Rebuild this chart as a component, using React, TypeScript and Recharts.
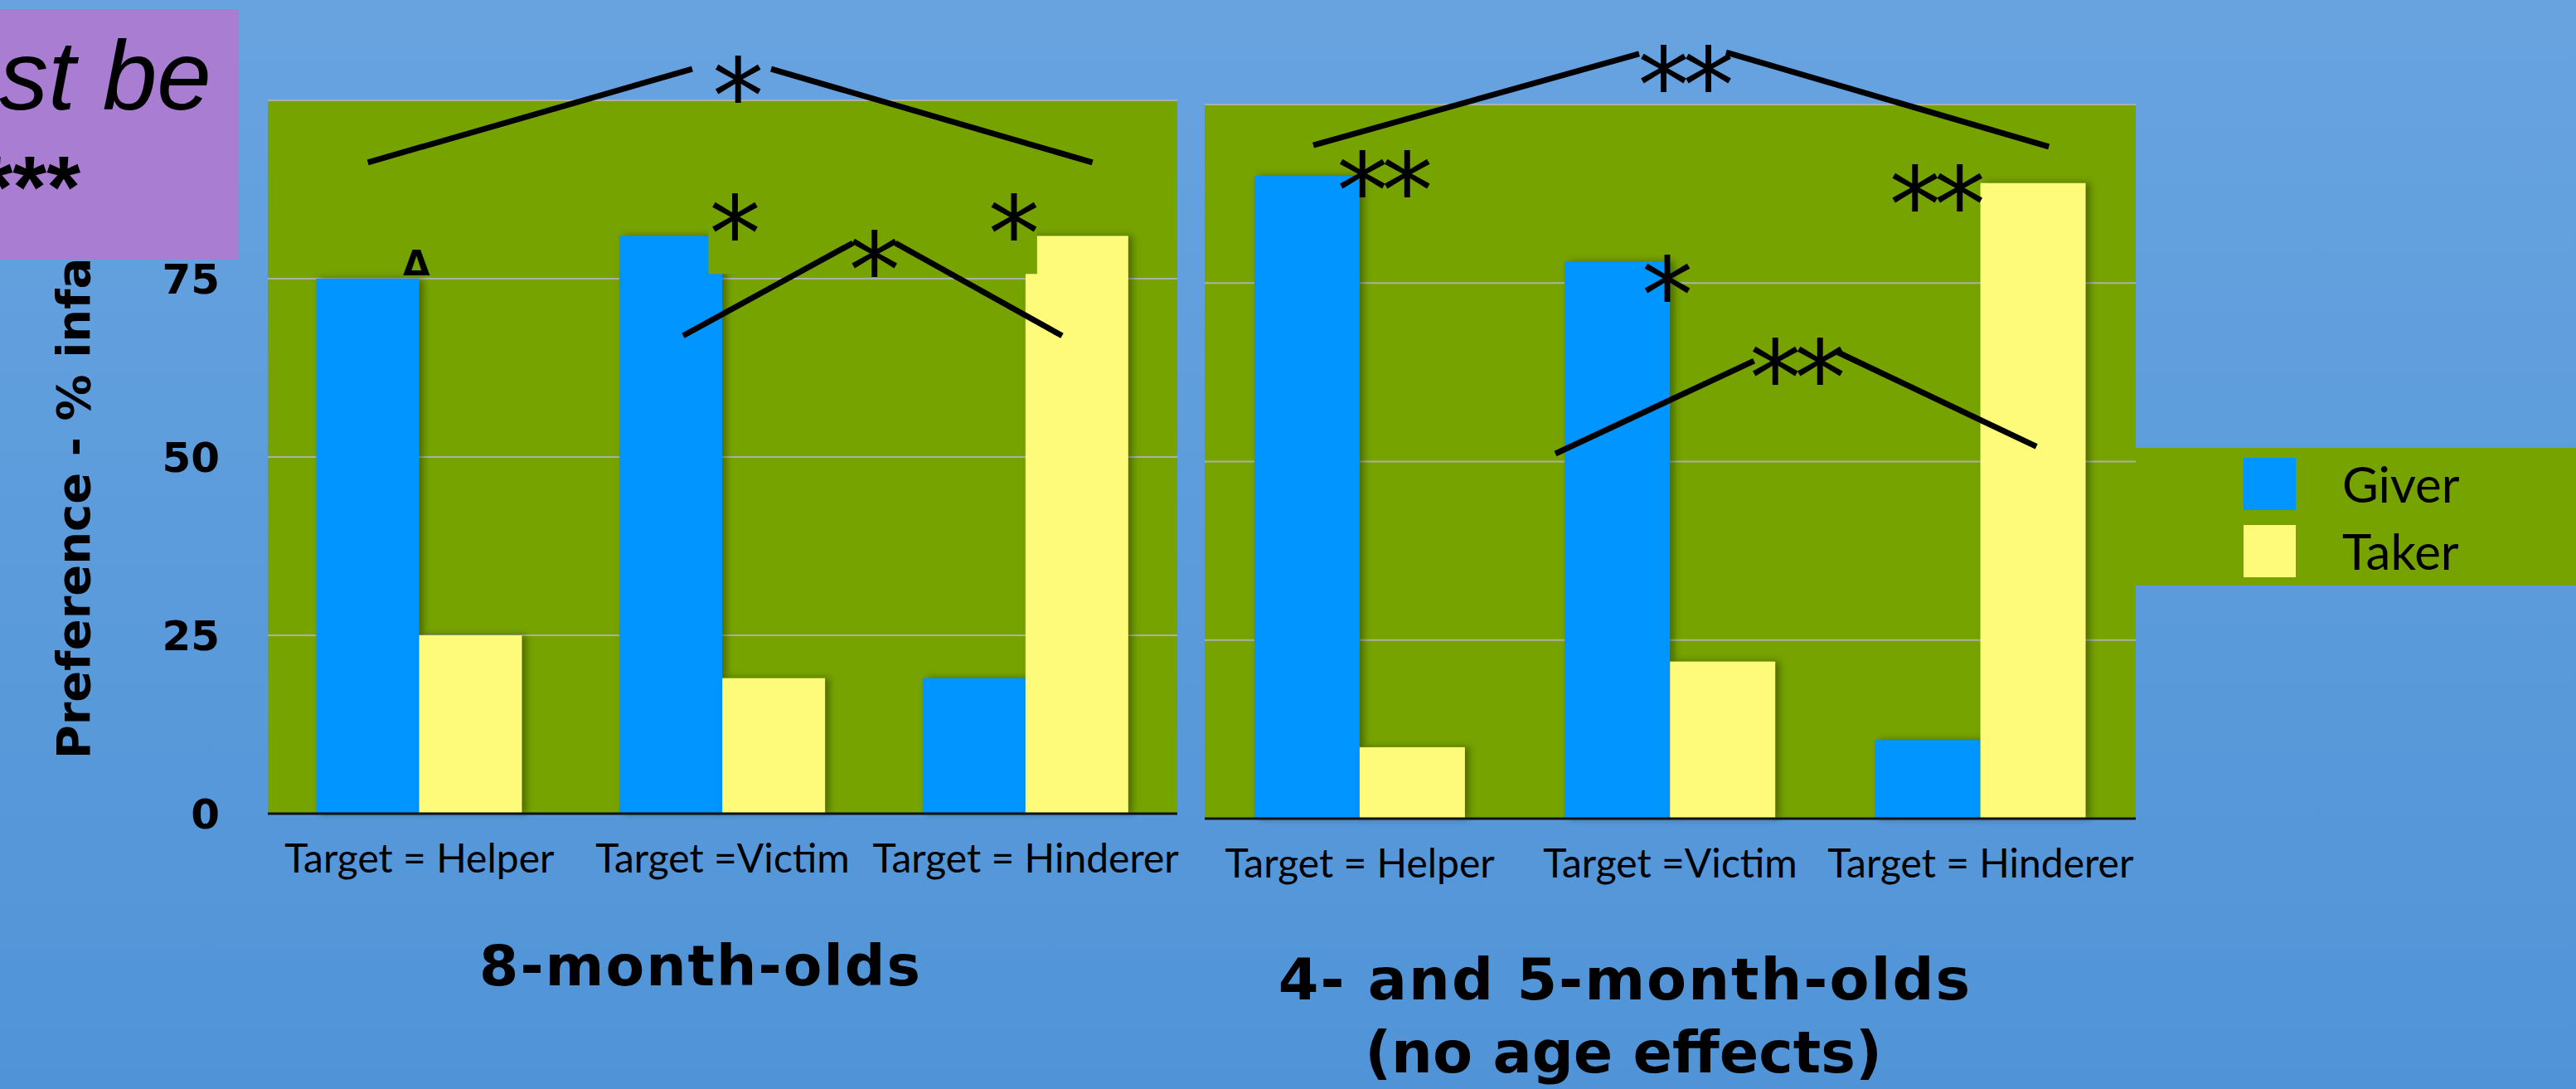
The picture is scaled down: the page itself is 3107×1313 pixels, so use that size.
import React from "react";
import {
  BarChart,
  Bar,
  XAxis,
  YAxis,
  CartesianGrid,
  ReferenceLine,
  ReferenceDot,
  Legend,
} from "recharts";

const categories = ["Target = Helper", "Target =Victim", "Target = Hinderer"];
const giver8 = [75, 81, 19];
const taker8 = [25, 19, 81];
const giver45 = [90, 78, 11];
const taker45 = [10, 22, 89];
const yTicks = [0, 25, 50, 75, 100];

// significance brackets: [x1, y1, x2, y2] with x in category units (0..3), y in %
const lines8 = [
  [0.33, 91.3, 1.4, 104.4],
  [1.66, 104.4, 2.72, 91.3],
  [1.37, 67, 1.93, 80],
  [2.07, 80, 2.62, 67],
];
const marks8 = [
  { x: 1.54, y: 103.8, text: "*" },
  { x: 1.99, y: 79.3, text: "*" },
  { x: 1.53, y: 84.5, text: "*", mask: "right" },
  { x: 2.45, y: 84.5, text: "*", mask: "left" },
  { x: 0.49, y: 77.2, text: "Δ" },
];
const lines45 = [
  [0.35, 94.3, 1.4, 107.1],
  [1.68, 107.3, 2.72, 94.1],
  [1.13, 51.1, 1.77, 64.1],
  [2.04, 65.3, 2.68, 52.1],
];
const marks45 = [
  { x: 1.54, y: 105.9, text: "**" },
  { x: 0.57, y: 91.1, text: "**" },
  { x: 2.35, y: 89.1, text: "**" },
  { x: 1.48, y: 76.5, text: "*" },
  { x: 1.9, y: 64.9, text: "**" },
];

const data8 = categories.map((name, i) => ({ name, giver: giver8[i], taker: taker8[i] }));
const data45 = categories.map((name, i) => ({ name, giver: giver45[i], taker: taker45[i] }));

// hidden helper axis spans the plot as [0, 2]; category units (0..3) are rescaled onto it
const POS_MAX = 2;
const toPos = (x: number) => (x * POS_MAX) / categories.length;

const GREEN = "#76a300";
const BLUE = "#0095ff";
const YELLOW = "#fffb7a";
const GRID = "#aeb0a4";
const TITLE_FONT = "DejaVu Sans";

const ShadowBar = (p: any) => (
  <rect
    x={p.x}
    y={p.y}
    width={p.width}
    height={p.height}
    fill={p.fill}
    style={{ filter: "drop-shadow(5px 0px 4px rgba(0,0,0,0.35))" }}
  />
);

const YTitle = (props: any) => {
  const vb = props.viewBox || { x: 20, y: 121, width: 303, height: 860 };
  const cx = vb.x + 68;
  const cy = vb.y + vb.height / 2 + 12;
  return (
    <text
      transform={`translate(${cx},${cy}) rotate(-90)`}
      textAnchor="middle"
      dominantBaseline="central"
      fontFamily="DejaVu Sans"
      fontWeight={700}
      fontSize={56}
      fill="#000"
    >
      Preference - % infants
    </text>
  );
};

const markLabel = (m: any) => (props: any) => {
  const vb = props.viewBox || { x: 0, y: 0, width: 0, height: 0 };
  const cx = vb.x + (vb.width || 0) / 2;
  const cy = vb.y + (vb.height || 0) / 2;
  const isDelta = m.text === "Δ";
  const fs = isDelta ? 42 : 124;
  return (
    <g>
      {m.mask === "right" && <rect x={cx - 28} y={cy - 40} width={70} height={116} fill={GREEN} />}
      {m.mask === "left" && <rect x={cx - 40} y={cy - 40} width={72} height={116} fill={GREEN} />}
      <text
        x={cx}
        y={cy + (isDelta ? 0.365 : 0.576) * fs}
        textAnchor="middle"
        fontFamily="DejaVu Sans"
        fontWeight={isDelta ? 700 : 400}
        fontSize={fs}
        letterSpacing={isDelta ? 0 : -8}
        fill="#000"
      >
        {m.text}
      </text>
    </g>
  );
};

const LegendBox = (props: any) => (
  <div
    style={{
      width: 531,
      height: 166,
      background: GREEN,
      boxSizing: "border-box",
      paddingTop: 12,
      paddingLeft: 130,
    }}
  >
    {(props.payload || []).map((e: any, i: number) => (
      <div key={i} style={{ display: "flex", alignItems: "center", height: 63, marginBottom: 18 }}>
        <div style={{ width: 63, height: 63, background: e.color }} />
        <span style={{ marginLeft: 56, fontFamily: "Lato", fontSize: 60, color: "#000", lineHeight: "63px" }}>
          {e.value}
        </span>
      </div>
    ))}
  </div>
);

const xTick = { fontFamily: "Lato", fontSize: 48, fill: "#000" };

function renderNotes(lines: number[][], marks: any[]) {
  return [
    ...lines.map((l, i) => (
      <ReferenceLine
        key={`l${i}`}
        xAxisId="pos"
        segment={[
          { x: toPos(l[0]), y: l[1] },
          { x: toPos(l[2]), y: l[3] },
        ]}
        stroke="#000"
        strokeWidth={7}
        ifOverflow="visible"
      />
    )),
    ...marks.map((m, i) => (
      <ReferenceDot
        key={`m${i}`}
        xAxisId="pos"
        x={toPos(m.x)}
        y={m.y}
        r={0}
        fill="none"
        stroke="none"
        ifOverflow="visible"
        label={markLabel(m)}
      />
    )),
  ];
}

export default function App() {
  return (
    <div
      style={{
        position: "absolute",
        left: 0,
        top: 0,
        width: 3107,
        height: 1313,
        overflow: "hidden",
        background: "linear-gradient(180deg, #68a3e0 0%, #5094d7 100%)",
      }}
    >
      <div style={{ position: "absolute", left: 0, top: 0 }}>
        <BarChart
          width={1440}
          height={1313}
          data={data8}
          margin={{ top: 121, right: 20, bottom: 272, left: 20 }}
          barCategoryGap="16%"
          barGap={0}
        >
          <CartesianGrid vertical={false} fill={GREEN} fillOpacity={1} stroke={GRID} strokeWidth={2} />
          <XAxis
            dataKey="name"
            height={60}
            interval={0}
            tickLine={false}
            tickSize={0}
            tickMargin={37}
            axisLine={{ stroke: "#111", strokeWidth: 3 }}
            tick={xTick}
          />
          <XAxis xAxisId="pos" type="number" domain={[0, POS_MAX]} allowDataOverflow hide />
          <YAxis
            domain={[0, 100]}
            ticks={yTicks}
            width={303}
            axisLine={false}
            tickLine={false}
            tickSize={0}
            tickMargin={58}
            tick={{ fontFamily: "DejaVu Sans", fontWeight: 700, fontSize: 50, fill: "#000" }}
            label={{ content: YTitle }}
          />
          <Bar dataKey="giver" name="Giver" fill={BLUE} isAnimationActive={false} shape={ShadowBar} />
          <Bar dataKey="taker" name="Taker" fill={YELLOW} isAnimationActive={false} shape={ShadowBar} />
          {renderNotes(lines8, marks8)}
        </BarChart>
      </div>

      <div style={{ position: "absolute", left: 1440, top: 0 }}>
        <BarChart
          width={1667}
          height={1313}
          data={data45}
          margin={{ top: 126, right: 531, bottom: 266, left: 13 }}
          barCategoryGap="16%"
          barGap={0}
        >
          <CartesianGrid vertical={false} fill={GREEN} fillOpacity={1} stroke={GRID} strokeWidth={2} />
          <XAxis
            dataKey="name"
            height={60}
            interval={0}
            tickLine={false}
            tickSize={0}
            tickMargin={37}
            axisLine={{ stroke: "#111", strokeWidth: 3 }}
            tick={xTick}
          />
          <XAxis xAxisId="pos" type="number" domain={[0, POS_MAX]} allowDataOverflow hide />
          <YAxis domain={[0, 100]} ticks={yTicks} hide />
          <Bar dataKey="giver" name="Giver" fill={BLUE} isAnimationActive={false} shape={ShadowBar} />
          <Bar dataKey="taker" name="Taker" fill={YELLOW} isAnimationActive={false} shape={ShadowBar} />
          {renderNotes(lines45, marks45)}
          <Legend
            layout="vertical"
            align="center"
            verticalAlign="middle"
            content={LegendBox}
            wrapperStyle={{ left: 1136, top: 540, width: 531, height: 166 }}
          />
        </BarChart>
      </div>

      <svg
        width={3107}
        height={1313}
        style={{ position: "absolute", left: 0, top: 0, pointerEvents: "none" }}
      >
        <text x={845} y={1188} textAnchor="middle" fontFamily={TITLE_FONT} fontWeight={700} fontSize={68} letterSpacing={2} fill="#000">
          8-month-olds
        </text>
        <text x={1960} y={1205} textAnchor="middle" fontFamily={TITLE_FONT} fontWeight={700} fontSize={70} letterSpacing={2} fill="#000">
          4- and 5-month-olds
        </text>
        <text x={1958} y={1293} textAnchor="middle" fontFamily={TITLE_FONT} fontWeight={700} fontSize={70} letterSpacing={0} fill="#000">
          (no age effects)
        </text>
      </svg>

      <div
        style={{
          position: "absolute",
          left: 0,
          top: 11,
          width: 288,
          height: 302,
          background: "#a97dd1",
          overflow: "hidden",
        }}
      >
        <svg width={288} height={302}>
          <text x={255} y={121} textAnchor="end" fontFamily="Liberation Sans" fontStyle="italic" fontSize={118} fill="#000">
            st be
          </text>
          <text x={97} y={251} textAnchor="end" fontFamily="Liberation Sans" fontWeight={700} fontSize={105} fill="#000">
            ***
          </text>
        </svg>
      </div>
    </div>
  );
}
